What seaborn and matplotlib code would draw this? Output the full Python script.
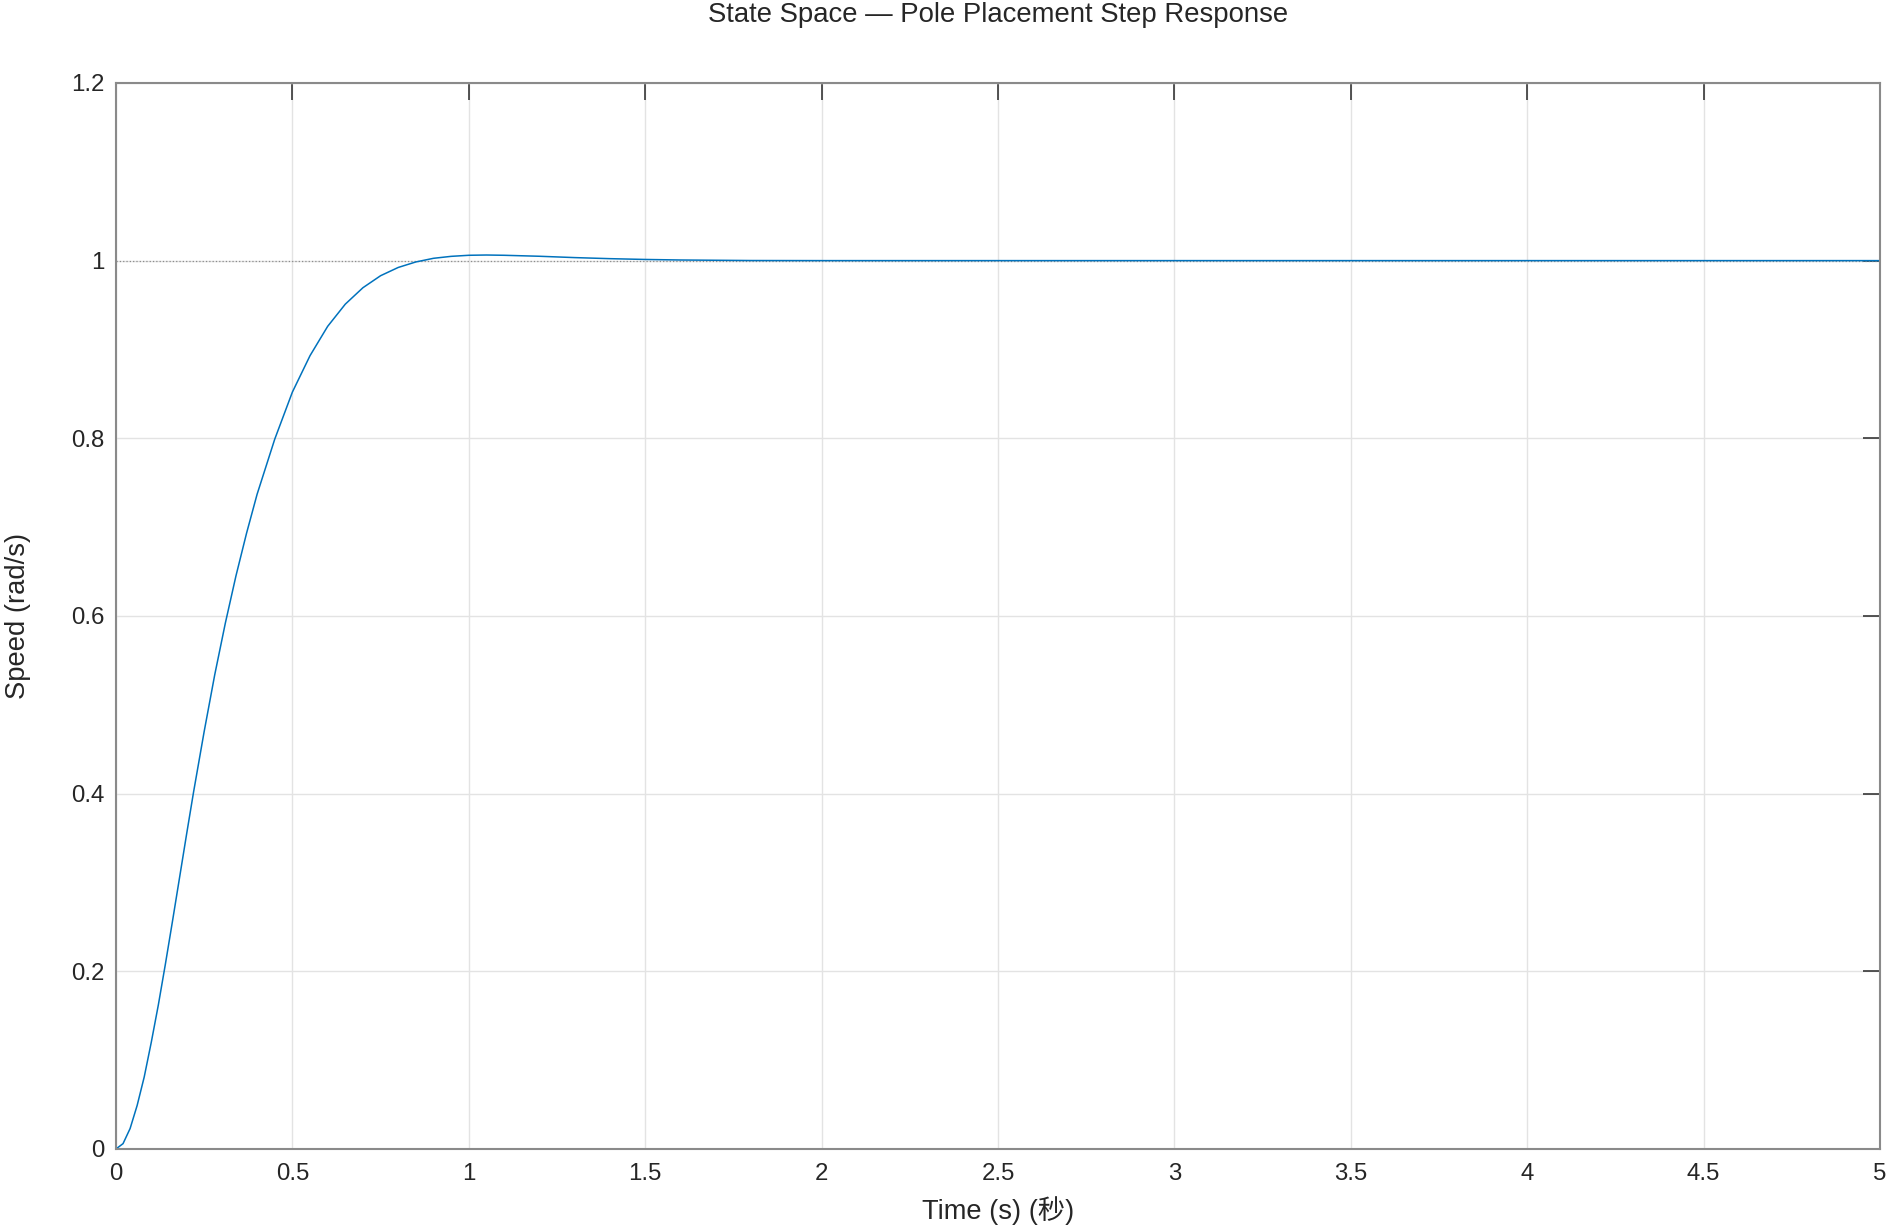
import matplotlib
matplotlib.use("Agg")
import matplotlib.pyplot as plt
import matplotlib.ticker as mticker
import seaborn as sns
import numpy as np
import pandas as pd

# step response
time_s = [0.0, 0.02, 0.04, 0.06, 0.08, 0.10, 0.12, 0.14, 0.16, 0.18, 0.20, 0.22,
          0.25, 0.28, 0.31, 0.34, 0.37, 0.40, 0.45, 0.50, 0.55, 0.60, 0.65, 0.70,
          0.75, 0.80, 0.85, 0.90, 0.95, 1.00, 1.05, 1.10, 1.20, 1.30, 1.40, 1.50,
          1.60, 1.80, 2.0, 2.5, 3.0, 4.0, 5.0]
speed = [0.0, 0.006, 0.023, 0.049, 0.081, 0.120, 0.162, 0.208, 0.256, 0.305, 0.354, 0.402,
         0.470, 0.534, 0.592, 0.645, 0.693, 0.737, 0.799, 0.852, 0.893, 0.926, 0.951, 0.9695,
         0.983, 0.9923, 0.9985, 1.0026, 1.0048, 1.0060, 1.0063, 1.0060, 1.0049, 1.0034, 1.0022, 1.0013,
         1.0007, 1.0001, 1.0, 1.0, 1.0, 1.0, 1.0]
ref_t = [0.0, 5.0]
ref_y = [1.0, 1.0]

x_ticks = [0, 0.5, 1, 1.5, 2, 2.5, 3, 3.5, 4, 4.5, 5]
y_ticks = [0, 0.2, 0.4, 0.6, 0.8, 1.0, 1.2]

sns.set_style("white")
plt.rcParams['font.family'] = ['Liberation Sans', 'Noto Sans CJK SC', 'DejaVu Sans']

df = pd.DataFrame({"t": time_s, "y": speed})
df_ref = pd.DataFrame({"t": ref_t, "y": ref_y})

fig = plt.figure(figsize=(18.89, 12.27), dpi=100)
ax = fig.add_axes([0.0614, 0.0636, 0.9338, 0.8688])

# dotted steady-state line sits under the response
sns.lineplot(data=df_ref, x="t", y="y", ax=ax, color="#8c8c8c", linestyle=":",
             linewidth=0.9, estimator=None, sort=False)
sns.lineplot(data=df, x="t", y="y", ax=ax, color="#0072BD", linewidth=1.1,
             estimator=None, sort=False)

ax.set_xlim(0, 5)
ax.set_ylim(0, 1.2)
ax.set_xticks(x_ticks)
ax.set_yticks(y_ticks)
ax.xaxis.set_major_formatter(mticker.FormatStrFormatter('%g'))
ax.yaxis.set_major_formatter(mticker.FormatStrFormatter('%g'))

ax.grid(True, color="#e3e3e3", linewidth=1.0)
ax.set_axisbelow(True)
for sp in ax.spines.values():
    sp.set_color("#8a8a8a")
    sp.set_linewidth(1.5)
    sp.set_visible(True)

ax.tick_params(direction="in", length=12.5, width=1.1, color="#262626",
               top=True, right=True, labelsize=17.3, labelcolor="#262626")
ax.tick_params(axis="x", pad=10)
ax.tick_params(axis="y", pad=8)

ax.set_title("State Space — Pole Placement Step Response", fontsize=19.8,
             color="#262626", pad=43.7)
ax.set_xlabel("Time (s) (秒)", fontsize=19.6, color="#262626", labelpad=7.8)
ax.set_ylabel("Speed (rad/s)", fontsize=19.7, color="#262626", labelpad=29)

fig.savefig("out.png", dpi=100)
